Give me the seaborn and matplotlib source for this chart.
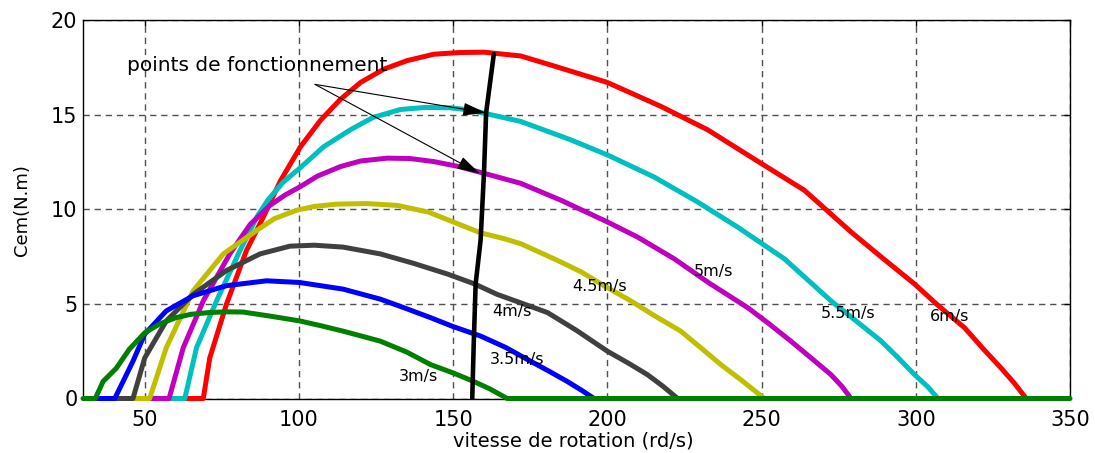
import matplotlib
matplotlib.use("Agg")
import matplotlib.pyplot as plt
import seaborn as sns
import pandas as pd

# ---- data ----
speed_labels = ["6m/s", "5.5m/s", "5m/s", "4.5m/s", "4m/s", "3.5m/s", "3m/s"]
colors = ["#FF0000", "#00BFBF", "#BF00BF", "#BFBF00", "#404040", "#0000FF", "#008000"]

x_6 = [63.0, 69.0, 71.1, 76.5, 83.0, 88.5, 94.0, 100.5, 107.0, 113.4, 120.0, 127.5, 135.0, 143.7,
       152.0, 160.0, 171.9, 182.7, 200.0, 217.3, 232.5, 249.8, 263.9, 279.0, 289.0, 299.6,
       307.0, 315.8, 322.0, 327.7, 332.0, 335.8]
y_6 = [0.0, 0.0, 2.14, 4.98, 7.82, 9.6, 11.5, 13.3, 14.7, 15.8, 16.7, 17.4, 17.85, 18.19,
       18.28, 18.3, 18.1, 17.57, 16.7, 15.44, 14.2, 12.43, 11.0, 8.8, 7.45, 6.05,
       4.95, 3.74, 2.6, 1.6, 0.8, 0.0]

x_55 = [57.9, 63.0, 66.8, 73.3, 80.9, 86.4, 90.0, 95.0, 100.5, 108.0, 116.7, 124.0, 132.9, 141.0,
        149.2, 155.0, 162.1, 171.9, 188.1, 200.0, 215.2, 229.2, 242.2, 257.4, 272.5, 281.0,
        288.8, 294.0, 299.6, 304.0, 307.2]
y_55 = [0.0, 0.0, 2.68, 5.16, 7.82, 9.6, 10.5, 11.45, 12.2, 13.3, 14.2, 14.85, 15.27, 15.38,
        15.36, 15.25, 15.0, 14.64, 13.67, 12.87, 11.7, 10.39, 9.06, 7.38, 5.16, 4.05,
        3.03, 2.2, 1.26, 0.6, 0.0]

x_5 = [51.6, 57.9, 62.5, 69.0, 77.6, 84.2, 90.6, 95.5, 100.5, 106.0, 113.4, 120.0, 128.6, 136.0,
       143.7, 152.0, 160.0, 171.9, 184.9, 200.0, 209.8, 221.7, 233.0, 245.5, 252.0, 259.5,
       266.0, 272.5, 276.0, 279.0]
y_5 = [0.0, 0.0, 2.68, 5.16, 7.64, 9.2, 10.2, 10.75, 11.2, 11.75, 12.25, 12.55, 12.7, 12.68,
       12.52, 12.25, 11.9, 11.37, 10.48, 9.33, 8.53, 7.38, 6.1, 4.8, 4.0, 3.03,
       2.15, 1.26, 0.65, 0.0]

x_45 = [46.2, 51.6, 57.0, 65.7, 75.5, 86.3, 92.0, 99.3, 105.0, 112.2, 122.0, 132.0, 142.0, 152.0,
        159.0, 166.4, 171.9, 183.8, 191.4, 199.0, 207.6, 215.0, 223.8, 230.3, 236.8, 244.0, 250.9]
y_45 = [0.0, 0.0, 2.68, 5.69, 7.64, 8.88, 9.5, 9.95, 10.15, 10.27, 10.3, 10.2, 9.85, 9.2,
        8.75, 8.45, 8.18, 7.3, 6.7, 5.95, 5.16, 4.4, 3.56, 2.68, 1.79, 0.9, 0.0]

x_4 = [40.3, 46.2, 50.0, 57.0, 65.7, 76.5, 87.4, 97.1, 105.0, 114.3, 126.4, 137.0, 148.1, 157.0,
       164.3, 172.0, 180.6, 190.0, 200.0, 207.0, 213.0, 218.0, 222.8]
y_4 = [0.0, 0.0, 2.14, 4.1, 5.5, 6.76, 7.64, 8.05, 8.1, 8.0, 7.64, 7.15, 6.58, 6.05,
       5.5, 5.05, 4.54, 3.6, 2.5, 1.85, 1.26, 0.65, 0.0]

x_35 = [34.0, 40.3, 43.0, 46.2, 50.0, 57.0, 65.7, 76.5, 89.5, 100.2, 114.3, 126.4, 134.0, 142.7,
        150.0, 158.9, 167.0, 175.1, 181.0, 187.0, 191.5, 195.7]
y_35 = [0.0, 0.0, 0.9, 1.97, 3.4, 4.63, 5.43, 5.96, 6.22, 6.13, 5.78, 5.25, 4.8, 4.27,
        3.8, 3.3, 2.7, 1.97, 1.45, 0.9, 0.45, 0.0]

x_3 = [30.0, 34.0, 36.5, 40.8, 45.0, 50.0, 55.0, 60.1, 65.0, 70.9, 76.0, 81.8, 90.4, 100.2, 107.0,
       114.3, 126.4, 135.0, 142.7, 150.0, 156.7, 162.0, 167.5, 350.0]
y_3 = [0.0, 0.0, 0.9, 1.6, 2.6, 3.47, 3.95, 4.27, 4.45, 4.54, 4.58, 4.57, 4.36, 4.1, 3.85,
       3.56, 3.03, 2.45, 1.79, 1.35, 0.9, 0.5, 0.0, 0.0]

op_x = [156.2, 156.7, 157.3, 158.9, 160.0, 160.7, 163.2]
op_y = [0.0, 3.0, 6.06, 8.35, 11.9, 15.1, 18.2]

label_x = [311.1, 278.1, 234.4, 197.6, 169.0, 170.6, 138.6]
label_y = [4.33, 4.51, 6.71, 5.92, 4.59, 2.04, 1.15]

annot_text = "points de fonctionnement"
annot_pos = (44.3, 17.3)
arrow_start = (105.2, 16.6)
arrow_tips = [(160.7, 15.09), (158.7, 11.88)]

x_ticks = [50, 100, 150, 200, 250, 300, 350]
y_ticks = [0, 5, 10, 15, 20]

curves_x = [x_6, x_55, x_5, x_45, x_4, x_35, x_3]
curves_y = [y_6, y_55, y_5, y_45, y_4, y_35, y_3]

# ---- plot ----
sns.set_style("white")
plt.rcParams['font.family'] = ['DejaVu Sans']
plt.rcParams['text.color'] = 'black'
plt.rcParams['axes.labelcolor'] = 'black'
plt.rcParams['xtick.color'] = 'black'
plt.rcParams['ytick.color'] = 'black'

fig = plt.figure(figsize=(10.95, 4.53), dpi=100)
ax = fig.add_axes([83 / 1095, 1 - 398.5 / 453, 987 / 1095, 378.5 / 453])

for xs, ys, c, lab in zip(curves_x, curves_y, colors, speed_labels):
    df = pd.DataFrame({"w": xs, "C": ys})
    sns.lineplot(data=df, x="w", y="C", ax=ax, color=c, lw=3.6, sort=False,
                 estimator=None, clip_on=False, zorder=3)

dfo = pd.DataFrame({"w": op_x, "C": op_y})
sns.lineplot(data=dfo, x="w", y="C", ax=ax, color="black", lw=3.3, sort=False,
             estimator=None, zorder=4)

for lab, lx, ly in zip(speed_labels, label_x, label_y):
    ax.text(lx, ly, lab, fontsize=11.5, ha="center", va="center", color="black", zorder=5)

ax.text(annot_pos[0], annot_pos[1], annot_text, fontsize=14.5, ha="left", va="baseline",
        color="black")
for tip in arrow_tips:
    ax.annotate("", xy=tip, xytext=arrow_start,
                arrowprops=dict(arrowstyle="-|>,head_length=0.9,head_width=0.25", color="black",
                                lw=0.8, mutation_scale=16, shrinkA=0, shrinkB=0), zorder=6)

ax.set_xlim(30, 350)
ax.set_ylim(0, 20)
ax.set_xticks(x_ticks)
ax.set_yticks(y_ticks)
ax.grid(True, color="#505050", lw=1.0, linestyle=(0, (4.5, 3.5)))
ax.set_axisbelow(True)
ax.tick_params(direction="in", top=True, right=True, length=4, width=1, colors="black",
               labelsize=15)
ax.tick_params(axis="x", pad=8)
ax.tick_params(axis="y", pad=4)
for s in ax.spines.values():
    s.set_color("black")
    s.set_linewidth(1.0)
    s.set_visible(True)

ax.set_xlabel("vitesse de rotation (rd/s)", fontsize=14, color="black")
ax.set_ylabel("Cem(N.m)", fontsize=13, color="black")
ax.xaxis.set_label_coords(0.497, -0.088)
ax.yaxis.set_label_coords(-0.053, 0.498)

fig.savefig("out.png", dpi=100)
